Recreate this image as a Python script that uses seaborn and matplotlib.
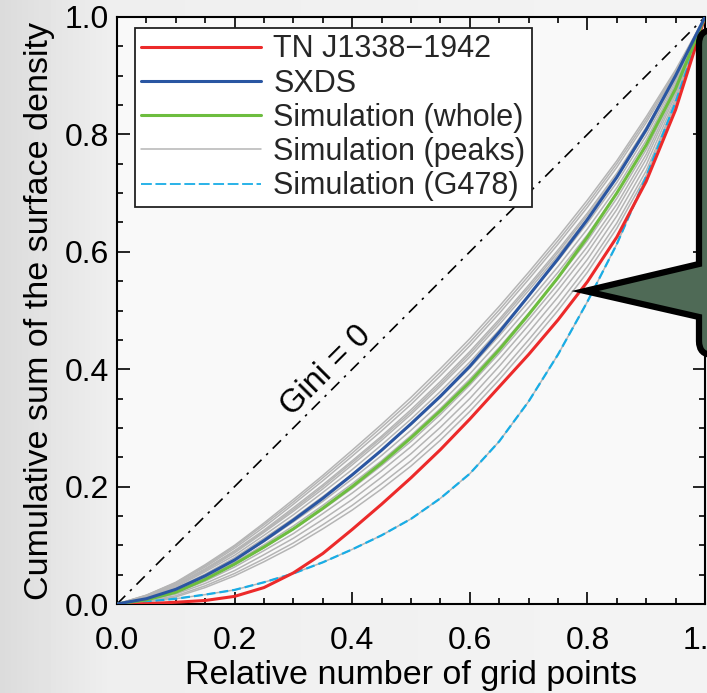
import numpy as np
import pandas as pd
import matplotlib
matplotlib.use("Agg")
import matplotlib.pyplot as plt
import seaborn as sns
from matplotlib.path import Path
from matplotlib.patches import PathPatch
from matplotlib.lines import Line2D
from matplotlib.ticker import MultipleLocator, FormatStrFormatter

# ---------------- data ----------------
x_grid = [0.00, 0.05, 0.10, 0.15, 0.20, 0.25, 0.30, 0.35, 0.40, 0.45, 0.50,
          0.55, 0.60, 0.65, 0.70, 0.75, 0.80, 0.85, 0.90, 0.95, 1.00]

tn_j1338 = [0, .0005, .003, .006, .013, .028, .053, .086, .127, .170, .215,
            .263, .315, .370, .425, .484, .549, .625, .720, .842, 1.0]
sxds = [0, .009, .025, .048, .075, .108, .143, .180, .220, .262, .307,
        .354, .405, .463, .525, .588, .655, .727, .808, .900, 1.0]
sim_whole = [0, .007, .020, .042, .068, .097, .128, .163, .200, .240, .283,
             .329, .378, .433, .493, .556, .625, .700, .782, .878, 1.0]
sim_g478 = [0, .004, .009, .016, .024, .037, .052, .071, .093, .117, .145,
            .180, .222, .277, .345, .425, .515, .613, .728, .855, 1.0]

peak_01 = [0, .015, .037, .067, .100, .138, .178, .219, .262, .306, .352,
           .401, .452, .507, .565, .625, .688, .755, .830, .910, 1.0]
peak_02 = [0, .015, .036, .065, .098, .135, .174, .215, .257, .301, .346,
           .395, .446, .501, .559, .619, .682, .750, .825, .907, 1.0]
peak_03 = [0, .014, .035, .063, .095, .131, .170, .210, .252, .295, .340,
           .389, .440, .495, .553, .613, .676, .744, .820, .904, 1.0]
peak_04 = [0, .013, .033, .060, .091, .126, .164, .203, .244, .286, .331,
           .379, .430, .485, .543, .603, .666, .734, .812, .899, 1.0]
peak_05 = [0, .013, .032, .059, .089, .124, .161, .200, .241, .283, .327,
           .375, .426, .481, .539, .599, .662, .730, .809, .897, 1.0]
peak_06 = [0, .012, .031, .057, .087, .122, .158, .196, .237, .279, .323,
           .371, .421, .476, .534, .594, .657, .726, .805, .895, 1.0]
peak_07 = [0, .012, .029, .055, .083, .117, .152, .190, .229, .271, .315,
           .362, .412, .467, .525, .585, .649, .718, .798, .891, 1.0]
peak_08 = [0, .011, .027, .051, .079, .112, .146, .183, .221, .262, .305,
           .352, .402, .457, .515, .575, .639, .709, .790, .886, 1.0]
peak_09 = [0, .010, .025, .048, .075, .106, .140, .175, .213, .253, .296,
           .342, .392, .447, .505, .565, .629, .700, .782, .881, 1.0]
peak_10 = [0, .009, .023, .045, .071, .101, .133, .168, .205, .244, .287,
           .333, .383, .437, .495, .555, .619, .691, .774, .876, 1.0]
peak_11 = [0, .008, .021, .042, .067, .096, .127, .161, .197, .236, .277,
           .323, .373, .427, .485, .545, .609, .681, .766, .872, 1.0]
peak_12 = [0, .007, .019, .039, .063, .091, .120, .154, .189, .227, .268,
           .313, .363, .417, .475, .535, .599, .672, .758, .867, 1.0]
peak_13 = [0, .006, .017, .035, .057, .084, .112, .144, .178, .216, .256,
           .301, .350, .405, .463, .523, .587, .661, .748, .861, 1.0]
peak_14 = [0, .005, .014, .031, .052, .077, .104, .135, .168, .205, .244,
           .289, .338, .392, .450, .510, .575, .649, .738, .855, 1.0]
peak_15 = [0, .004, .012, .028, .048, .072, .098, .128, .160, .196, .235,
           .279, .328, .382, .440, .500, .565, .640, .730, .850, 1.0]
peak_g478 = sim_g478

gini0_x = [0.0, 1.0]
gini0_y = [0.0, 1.0]

legend_labels = ["TN J1338\u22121942", "SXDS", "Simulation (whole)",
                 "Simulation (peaks)", "Simulation (G478)"]
x_ticks = [0.0, 0.2, 0.4, 0.6, 0.8, 1.0]
y_ticks = [0.0, 0.2, 0.4, 0.6, 0.8, 1.0]

peaks = {f"p{i:02d}": v for i, v in enumerate(
    [peak_01, peak_02, peak_03, peak_04, peak_05, peak_06, peak_07, peak_08,
     peak_09, peak_10, peak_11, peak_12, peak_13, peak_14, peak_15, peak_g478],
    start=1)}
peak_df = pd.DataFrame([(k, x, y) for k, ys in peaks.items() for x, y in zip(x_grid, ys)],
                       columns=["curve", "x", "y"])

# ---------------- style ----------------
sns.set_theme(style="ticks")
plt.rcParams['font.family'] = ['Liberation Sans', 'DejaVu Sans']

W, H = 707, 693
fig = plt.figure(figsize=(W / 100, H / 100), dpi=100)

# background (light grey paper, darker toward left edge)
bg = fig.add_axes([0, 0, 1, 1], zorder=-5)
bg.axis("off")
grad = np.concatenate([np.linspace(0.86, 0.935, 110), np.linspace(0.935, 0.955, W - 110)])
bg.imshow(grad[None, :], cmap="gray", vmin=0, vmax=1, aspect="auto", extent=[0, 1, 0, 1])
bg.set_xlim(0, 1); bg.set_ylim(0, 1)

ax = fig.add_axes([117 / W, 89 / H, 588 / W, 587 / H])
ax.set_facecolor("#f9f9f9")

GREY = "#b5b5b5"
RED = "#ec2a2a"
BLUE = "#2a56a2"
GREEN = "#6dbd3f"
CYAN = "#18ade6"

sns.lineplot(x=gini0_x, y=gini0_y, ax=ax, color="black", lw=1.2,
             linestyle=(0, (7, 4, 1.5, 4)), zorder=2)
sns.lineplot(data=peak_df, x="x", y="y", units="curve", estimator=None, ax=ax,
             color=GREY, lw=1.1, zorder=3)
sns.lineplot(x=x_grid, y=sim_g478, ax=ax, color=CYAN, lw=1.6,
             linestyle=(0, (4, 1.8)), zorder=4)
sns.lineplot(x=x_grid, y=tn_j1338, ax=ax, color=RED, lw=2.2, zorder=5)
sns.lineplot(x=x_grid, y=sim_whole, ax=ax, color=GREEN, lw=2.2, zorder=5)
sns.lineplot(x=x_grid, y=sxds, ax=ax, color=BLUE, lw=2.2, zorder=6)

ax.set_xlim(0, 1)
ax.set_ylim(0, 1)
ax.set_xticks(x_ticks)
ax.set_yticks(y_ticks)
ax.xaxis.set_minor_locator(MultipleLocator(0.05))
ax.yaxis.set_minor_locator(MultipleLocator(0.05))
ax.xaxis.set_major_formatter(FormatStrFormatter("%.1f"))
ax.yaxis.set_major_formatter(FormatStrFormatter("%.1f"))
ax.tick_params(which="both", direction="in", top=True, right=True,
               colors="black", labelsize=23, width=1.2)
ax.tick_params(which="major", length=9)
ax.tick_params(which="minor", length=4.5)
ax.tick_params(axis="x", which="major", pad=16)
ax.tick_params(axis="y", which="major", pad=6)
for s in ax.spines.values():
    s.set_linewidth(1.5)
    s.set_color("black")

ax.set_xlabel("Relative number of grid points", fontsize=24.5, labelpad=3, color="black")
ax.set_ylabel("Cumulative sum of the surface density", fontsize=24.5, labelpad=7, color="black")

ax.text(0.355, 0.397, "Gini = 0", rotation=45, rotation_mode="anchor",
        ha="center", va="center", fontsize=23.5, color="black", zorder=7)

handles = [
    Line2D([], [], color=RED, lw=2.2),
    Line2D([], [], color=BLUE, lw=2.2),
    Line2D([], [], color=GREEN, lw=2.2),
    Line2D([], [], color=GREY, lw=1.1),
    Line2D([], [], color=CYAN, lw=1.3, linestyle=(0, (6, 2))),
]
leg = ax.legend(handles, legend_labels, loc="upper left", bbox_to_anchor=(0.031, 0.981),
                borderaxespad=0, frameon=True, fancybox=False, fontsize=22,
                handlelength=3.9, handletextpad=0.42, labelspacing=0.14,
                borderpad=0.2, framealpha=1)
leg.get_frame().set_edgecolor("#222222")
leg.get_frame().set_linewidth(1.3)
leg.get_frame().set_facecolor("white")
leg.set_zorder(10)

# speech-bubble callout at the right edge (decoration)
def fp(x, y):
    return (x / W, (H - y) / H)

verts = [fp(760, 30), fp(713, 30), fp(699, 30), fp(699, 44), fp(699, 264),
         fp(585, 291), fp(699, 317), fp(699, 341), fp(699, 355), fp(713, 355),
         fp(760, 355), fp(760, 30)]
codes = [Path.MOVETO, Path.LINETO, Path.CURVE3, Path.CURVE3, Path.LINETO,
         Path.LINETO, Path.LINETO, Path.LINETO, Path.CURVE3, Path.CURVE3,
         Path.LINETO, Path.CLOSEPOLY]
bubble = PathPatch(Path(verts, codes), transform=fig.transFigure,
                   facecolor="#4f6a56", edgecolor="black", lw=4.5,
                   joinstyle="miter", clip_on=False, zorder=20)
fig.add_artist(bubble)

fig.savefig("out.png", dpi=100)
